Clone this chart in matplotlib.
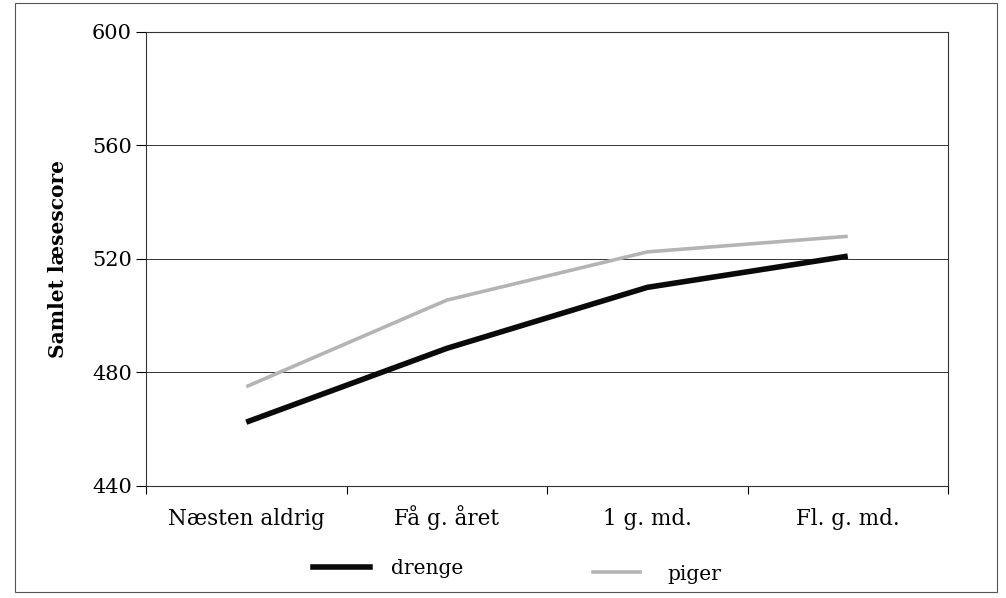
import matplotlib
matplotlib.use("Agg")
import matplotlib.pyplot as plt
from matplotlib.lines import Line2D
from matplotlib.patches import Rectangle

categories = ["Næsten aldrig", "Få g. året", "1 g. md.", "Fl. g. md."]
drenge = [462.5, 488.5, 510, 521]
piger = [475, 505.5, 522.5, 528]
y_ticks = [440, 480, 520, 560, 600]

plt.rcParams["font.family"] = ["DejaVu Serif", "Liberation Serif"]

W, H = 1006, 598
fig = plt.figure(figsize=(W / 100, H / 100), dpi=100)
ax = fig.add_axes([146 / W, 1 - 486 / H, 802 / W, 454 / H])

BLACK = "#0a0a0a"
GREY = "#b4b4b4"
x = list(range(len(categories)))
ax.plot(x, drenge, color=BLACK, lw=4, solid_capstyle="butt", zorder=3)
ax.plot(x, piger, color=GREY, lw=2.6, solid_capstyle="butt", zorder=3)

ax.set_xlim(-0.5, len(categories) - 0.5)
ax.set_ylim(440, 600)
ax.set_yticks(y_ticks)
ax.set_yticklabels([str(v) for v in y_ticks], fontsize=15)
ax.set_xticks(x)
# category labels share a common baseline
ax.set_xticklabels(categories, fontsize=15.5, va="baseline")
ax.tick_params(axis="x", length=0, pad=28)
ax.set_xticks([i - 0.5 for i in range(len(categories) + 1)], minor=True)
ax.tick_params(axis="x", which="minor", length=6, width=0.8, direction="out")
ax.tick_params(axis="y", length=7, width=0.8, direction="out", pad=3)
ax.grid(axis="y", color="#333333", lw=0.7)
ax.set_axisbelow(True)
for s in ax.spines.values():
    s.set_linewidth(0.8)
    s.set_color("#333333")

ax.set_ylabel("Samlet læsescore", fontsize=14.5, fontweight="bold")
ax.yaxis.set_label_coords(-0.097, 0.5)

# legend entries placed individually below the plot
leg_kw = dict(loc="center left", frameon=False, fontsize=14.5,
              borderpad=0, borderaxespad=0)
fig.legend([Line2D([], [], color=BLACK, lw=4)], ["drenge"],
           bbox_to_anchor=(313 / W, 1 - 569 / H),
           handlelength=2.85, handletextpad=1.0, **leg_kw)
fig.legend([Line2D([], [], color=GREY, lw=2.6)], ["piger"],
           bbox_to_anchor=(593 / W, 1 - 574 / H),
           handlelength=2.35, handletextpad=1.35, **leg_kw)

fig.patches.append(Rectangle((15 / W, 6 / H), 982 / W, 589 / H, transform=fig.transFigure,
                             fill=False, edgecolor="#555555", lw=0.8))

fig.savefig("out.png", dpi=100)
